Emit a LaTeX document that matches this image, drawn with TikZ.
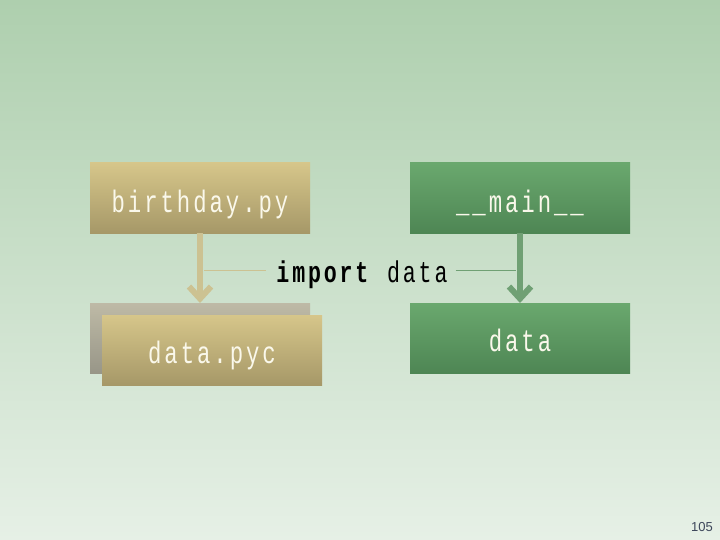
\documentclass[tikz,border=0pt]{standalone}
\usepackage{fontspec}
\usetikzlibrary{arrows.meta}
\newfontfamily\monof{Liberation Mono}[FakeStretch=0.72, LetterSpace=9.5]
\newfontfamily\pagef{Liberation Sans}
\definecolor{bgtop}{RGB}{174,207,174}
\definecolor{bgbot}{RGB}{230,240,230}
\definecolor{tantop}{RGB}{214,198,138}
\definecolor{tanbot}{RGB}{166,152,104}
\definecolor{greytop}{RGB}{190,186,166}
\definecolor{greybot}{RGB}{152,150,136}
\definecolor{grtop}{RGB}{106,168,110}
\definecolor{grbot}{RGB}{78,134,84}
\definecolor{tanline}{RGB}{204,194,146}
\definecolor{grline}{RGB}{112,160,116}
\definecolor{boxtext}{RGB}{250,248,235}
\definecolor{pagecol}{RGB}{60,70,90}
\newcommand{\boxtxt}[2]{\raisebox{-#1pt}[0pt][0pt]{#2}}
\tikzset{
  box/.style={minimum width=220pt, minimum height=70pt, inner sep=0pt, text=boxtext, font=\monof\fontsize{31}{34}\selectfont},
  tanbox/.style={box, top color=tantop, bottom color=tanbot},
  greybox/.style={box, top color=greytop, bottom color=greybot},
  grbox/.style={box, top color=grtop, bottom color=grbot},
  bigarrow/.style={line width=6pt, -{Straight Barb[length=12pt, width=22pt, line width=6pt]}},
}
\begin{document}
\begin{tikzpicture}[x=1pt, y=-1pt]
\shade[top color=bgtop, bottom color=bgbot] (0,0) rectangle (720,540);
\useasboundingbox (0,0) rectangle (720,540);
\node[tanbox] (bday) at (200,198) {\boxtxt{14}{birthday.py}};
\node[grbox] (main) at (520,198) {\boxtxt{14}{\_\_main\_\_}};
\node[greybox] (back) at (200,338) {};
\node[tanbox] (pyc) at (212,350) {\boxtxt{13}{data.pyc}};
\node[grbox] (data) at (520,338) {\boxtxt{13}{data}};
\coordinate (ta) at (200,303);
\coordinate (ga) at (520,303);
\draw[bigarrow, tanline] (bday.south) -- (ta);
\draw[bigarrow, grline] (main.south) -- (ga);
\node[font=\monof\fontsize{30}{32}\selectfont, inner sep=0pt, anchor=base] (lbl) at (362,282) {\textbf{import} data};
\coordinate (tl) at (204,270);
\coordinate (gl) at (516,270);
\draw[tanline, line width=0.8pt] (tl) -- ([xshift=-10pt]lbl.west |- tl);
\draw[grline, line width=0.8pt] ([xshift=8pt]lbl.east |- gl) -- (gl);
\node[font=\pagef\fontsize{13}{15}\selectfont, text=pagecol, anchor=east, inner sep=0pt] (pg) at (713,527) {105};
\end{tikzpicture}
\end{document}
